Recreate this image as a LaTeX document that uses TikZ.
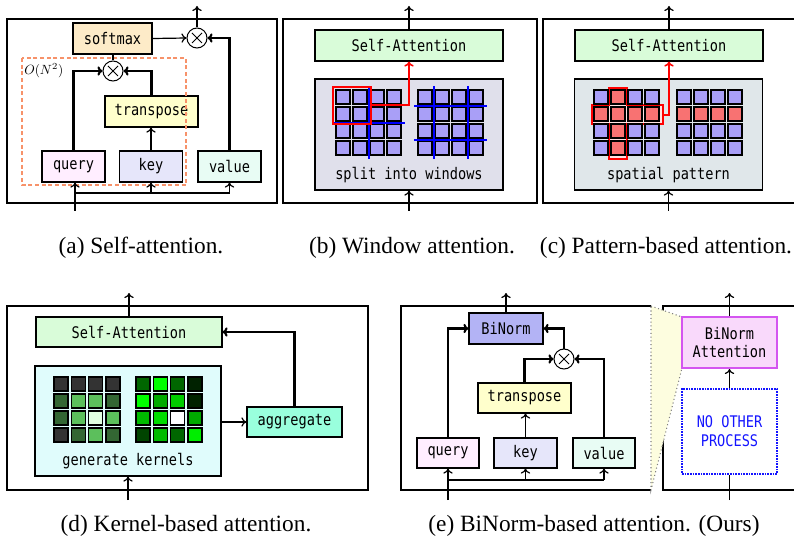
\documentclass[tikz,border=0pt]{standalone}
\usepackage{fontspec}
\setmainfont{Liberation Serif}
\newfontfamily\monofont[FakeStretch=0.85]{DejaVu Sans Mono}
\usetikzlibrary{arrows.meta}

\definecolor{smfill}{HTML}{FDEBC8}
\definecolor{trfill}{HTML}{FFFFCC}
\definecolor{qfill}{HTML}{FFEEFF}
\definecolor{kfill}{HTML}{E6E6FA}
\definecolor{vfill}{HTML}{E8FCF4}
\definecolor{safill}{HTML}{D9FCD9}
\definecolor{winfill}{HTML}{E0E0EB}
\definecolor{patfill}{HTML}{E0E7EA}
\definecolor{kerfill}{HTML}{E0FCFC}
\definecolor{aggfill}{HTML}{99FFDD}
\definecolor{bnfill}{HTML}{B3B3F5}
\definecolor{bnafill}{HTML}{F9D9FB}
\definecolor{bnadraw}{HTML}{D455F0}
\definecolor{trapfill}{HTML}{FDFDDF}
\definecolor{cplx}{HTML}{F7926A}
\definecolor{sqfill}{HTML}{A99FF7}
\definecolor{sqred}{HTML}{F87272}
\definecolor{crossfill}{HTML}{FFE2E2}
\definecolor{noblue}{HTML}{1414FF}
% kernel colours
\definecolor{kA}{HTML}{333333}
\definecolor{kB}{HTML}{336633}
\definecolor{kC}{HTML}{5CBF5C}
\definecolor{kD}{HTML}{E0FFE0}
\definecolor{gA}{HTML}{006600}
\definecolor{gB}{HTML}{00FF00}
\definecolor{gC}{HTML}{002200}
\definecolor{gD}{HTML}{00AA00}
\definecolor{gE}{HTML}{00CC00}
\definecolor{gF}{HTML}{00BB00}
\definecolor{gG}{HTML}{00DD00}
\definecolor{gH}{HTML}{004400}
\definecolor{gI}{HTML}{00EE00}
\definecolor{gW}{HTML}{FFFFFF}

\begin{document}
\begin{tikzpicture}[x=0.75pt,y=0.75pt,yscale=-1,xscale=1,
  >={To[length=3.8pt,width=7pt]},
  frame/.style={line width=1.1pt},
  blk/.style={draw,line width=0.8pt,inner sep=0pt,font=\monofont\fontsize{12}{14}\selectfont},
  mult/.style={draw,circle,line width=0.75pt,minimum size=15pt,inner sep=0pt,fill=white,
    path picture={\draw[line width=0.75pt] ([shift={(-5,-5)}]path picture bounding box.center) -- ([shift={(5,5)}]path picture bounding box.center) ([shift={(-5,5)}]path picture bounding box.center) -- ([shift={(5,-5)}]path picture bounding box.center);}},
  thn/.style={line width=0.9pt},
  thk/.style={line width=1.6pt},
  sq/.style={draw=black,line width=0.9pt,fill=sqfill},
  lbl/.style={inner sep=0pt,font=\monofont\fontsize{12}{14}\selectfont},
  captxt/.style={anchor=base,inner sep=0pt,font=\fontsize{17.5}{20}\selectfont}
]
\useasboundingbox (0,0) rectangle (794,542);

%%%%%%%%%%%%%%%% (a) self-attention
\draw[frame] (7,19) rectangle (277,203);
\node[blk,fill=smfill,minimum width=59.25pt,minimum height=23.25pt] (sm) at (112.5,38.5) {softmax};
\node[mult] (mb) at (197,38) {};
\node[mult] (ma) at (113,71) {};
\node[blk,fill=trfill,minimum width=69.75pt,minimum height=23.25pt] (tra) at (151.5,111.5) {transpose};
\node[blk,fill=qfill,minimum width=47.25pt,minimum height=23.25pt] (qa) at (73.5,166.5) {query};
\node[blk,fill=kfill,minimum width=47.25pt,minimum height=23.25pt] (ka) at (151,166.5) {key};
\node[blk,fill=vfill,minimum width=47.25pt,minimum height=23.25pt] (va) at (229.5,166.5) {value};
% O(N^2) region
\draw[cplx,line width=1.1pt,dash pattern=on 3pt off 2pt] (22,58) rectangle (186,185);
\node[anchor=west,inner sep=0pt] (onsq) at (24,71) {$O(N^2)$};

\coordinate (ina) at (75,211);
\coordinate (busa) at (75,193);
\coordinate (outa) at (197,6);
\draw[thn,->] (ina) -- (ina |- qa.south);
\draw[thk] (busa) -- (busa -| va.south);
\draw[thn,->] (busa -| ka.south) -- (ka.south);
\draw[thn,->] (busa -| va.south) -- (va.south);
\draw[thk,->] (qa.north) |- (ma.west);
\draw[thn,->] (ka.north) -- (ka.north |- tra.south);
\draw[thk,->] (tra.north) |- (ma.east);
\draw[thk] (ma.north) -- (ma.north |- sm.south);
\draw[thn,->] (sm.east) -- (mb.west);
\draw[thk,->] (va.north) |- (mb.east);
\draw[thn,->] (mb.north) -- (outa);

%%%%%%%%%%%%%%%% (b) window attention
\draw[frame] (283,19) rectangle (537,203);
\node[blk,fill=safill,minimum width=141pt,minimum height=23.25pt] (sab) at (409,45.5) {Self-Attention};
\node[blk,fill=winfill,minimum width=141pt,minimum height=83.25pt] (win) at (409,134.5) {};
\node[lbl] (wintxt) at (409,175) {split into windows};
\foreach \i in {0,...,3} \foreach \j in {0,...,3} {
  \draw[sq] (336+17*\i,90+17*\j) rectangle ++(14,14);
  \draw[sq] (418+17*\i,90+17*\j) rectangle ++(14,14);
}
% window borders
\draw[blue,line width=1.5pt] (369,86) -- (369,159) (332,123) -- (405,123);
\draw[blue,line width=1.5pt] (434,86) -- (434,159) (468,86) -- (468,159)
  (414,106) -- (487,106) (414,140) -- (487,140);
\draw[red,line width=1.2pt] (333,87) rectangle (371,124);

\coordinate (inb) at (409,211);
\coordinate (outb) at (409,6);
\coordinate (rwin) at (371,105);
\draw[thn,->] (inb) -- (win.south);
\draw[thn,->] (sab.north) -- (outb);
\draw[red,line width=1.2pt,->] (rwin) -| (sab.south);

%%%%%%%%%%%%%%%% (c) pattern-based attention
\draw[frame] (794,19) -- (543,19) -- (543,203) -- (794,203);
\node[blk,fill=safill,minimum width=141pt,minimum height=23.25pt] (sac) at (669,45.5) {Self-Attention};
\node[blk,fill=patfill,minimum width=141pt,minimum height=83.25pt] (pat) at (668.5,134.5) {};
\node[lbl] (pattxt) at (668.5,175) {spatial pattern};
% cross shaped pattern
\draw[red,line width=1.2pt,fill=crossfill] (609,88) -- (627,88) -- (627,105) -- (663,105) -- (663,124)
  -- (627,124) -- (627,159) -- (609,159) -- (609,124) -- (592,124) -- (592,105) -- (609,105) -- cycle;
\foreach \i in {0,...,3} \foreach \j in {0,...,3} {
  \draw[sq] (594+17*\i,90+17*\j) rectangle ++(14,14);
  \draw[sq] (677+17*\i,90+17*\j) rectangle ++(14,14);
}
\foreach \i in {0,...,3} {
  \draw[sq,fill=sqred] (594+17*\i,107) rectangle ++(14,14);
  \draw[sq,fill=sqred] (611,90+17*\i) rectangle ++(14,14);
  \draw[sq,fill=sqred] (677+17*\i,107) rectangle ++(14,14);
}

\coordinate (inc) at (668.5,211);
\coordinate (outc) at (669,6);
\coordinate (rpat) at (663,115);
\draw[thn,->] (inc) -- (pat.south);
\draw[thn,->] (sac.north) -- (outc);
\draw[red,line width=1.2pt,->] (rpat) -| (sac.south);

%%%%%%%%%%%%%%%% (d) kernel-based attention
\draw[frame] (7,306) rectangle (368,490);
\node[blk,fill=safill,minimum width=139.5pt,minimum height=22.5pt] (sad) at (129,332) {Self-Attention};
\node[blk,fill=kerfill,minimum width=139.5pt,minimum height=82.5pt] (ker) at (128,421) {};
\node[lbl] (kertxt) at (128,461) {generate kernels};
\node[blk,fill=aggfill,minimum width=71.25pt,minimum height=22.5pt] (agg) at (294.5,422) {aggregate};
\foreach \c [count=\n from 0] in {kA,kA,kA,kA,kB,kC,kC,kB,kB,kC,kD,kC,kA,kB,kC,kB} {
  \pgfmathtruncatemacro\i{mod(\n,4)}
  \pgfmathtruncatemacro\j{div(\n,4)}
  \draw[sq,fill=\c] (54+17.3*\i,377+17*\j) rectangle ++(14,14);
}
\foreach \c [count=\n from 0] in {gA,gB,gA,gC,gB,gD,gE,gC,gF,gG,gW,gD,gH,gF,gA,gI} {
  \pgfmathtruncatemacro\i{mod(\n,4)}
  \pgfmathtruncatemacro\j{div(\n,4)}
  \draw[sq,fill=\c] (136+17.3*\i,377+17*\j) rectangle ++(14,14);
}

\coordinate (ind) at (128,500);
\coordinate (outd) at (129,293);
\draw[thn,->] (ind) -- (ker.south);
\draw[thn,->] (sad.north) -- (outd);
\draw[thn,->] (ker.east |- agg.west) -- (agg.west);
\draw[thk,->] (agg.north) |- (sad.east);

%%%%%%%%%%%%%%%% (e) BiNorm-based attention
\draw[frame] (651,306) -- (401,306) -- (401,490) -- (651,490);
\draw[frame] (794,306) -- (663,306) -- (663,490) -- (794,490);
% zoom-in band
\draw[gray,dotted,line width=0.8pt,fill=trapfill] (651,306) -- (682,317) -- (682,368) -- (651,490) -- cycle;

\node[blk,fill=bnfill,minimum width=55.5pt,minimum height=23.25pt] (bn) at (506,328.5) {BiNorm};
\node[mult] (me) at (564,359) {};
\node[blk,fill=trfill,minimum width=69.75pt,minimum height=22.5pt] (tre) at (524.5,398) {transpose};
\node[blk,fill=qfill,minimum width=46.5pt,minimum height=22.5pt] (qe) at (448,453) {query};
\node[blk,fill=kfill,minimum width=47.25pt,minimum height=22.5pt] (ke) at (525.5,453) {key};
\node[blk,fill=vfill,minimum width=46.5pt,minimum height=22.5pt] (ve) at (604,453) {value};
\node[blk,fill=bnafill,draw=bnadraw,line width=1.5pt,align=center,minimum width=71.25pt,minimum height=38.25pt] (bna) at (729.5,342.5) {BiNorm\\Attention};
\node[blk,draw=noblue,line width=1.6pt,dash pattern=on 1.2pt off 0.8pt,text=noblue,align=center,minimum width=71.25pt,minimum height=63.75pt] (nop) at (729.5,431.5) {NO OTHER\\PROCESS};

\coordinate (ine) at (448,500);
\coordinate (buse) at (448,480);
\coordinate (oute) at (506,293);
\coordinate (inr) at (729.5,500);
\coordinate (outr) at (729.5,293);
\draw[thn,->] (ine) -- (qe.south);
\draw[thk] (buse) -- (buse -| ve.south);
\draw[thn,->] (buse -| ke.south) -- (ke.south);
\draw[thn,->] (buse -| ve.south) -- (ve.south);
\draw[thk,->] (qe.north) |- (bn.west);
\draw[thn,->] (ke.north) -- (ke.north |- tre.south);
\draw[thk,->] (tre.north) |- (me.west);
\draw[thk,->] (ve.north) |- (me.east);
\draw[thk,->] (me.north) |- (bn.east);
\draw[thn,->] (bn.north) -- (oute);
\draw[thn] (inr) -- (nop.south);
\draw[thn,->] (nop.north) -- (bna.south);
\draw[thn,->] (bna.north) -- (outr);

% captions
\node[captxt] (capa) at (141,253) {(a) Self-attention.};
\node[captxt] (capb) at (412,253) {(b) Window attention.};
\node[captxt] (capc) at (666,253) {(c) Pattern-based attention.};
\node[captxt] (capd) at (186,531) {(d) Kernel-based attention.};
\node[captxt] (cape) at (594,531) {(e) BiNorm-based attention. (Ours)};

\end{tikzpicture}
\end{document}
